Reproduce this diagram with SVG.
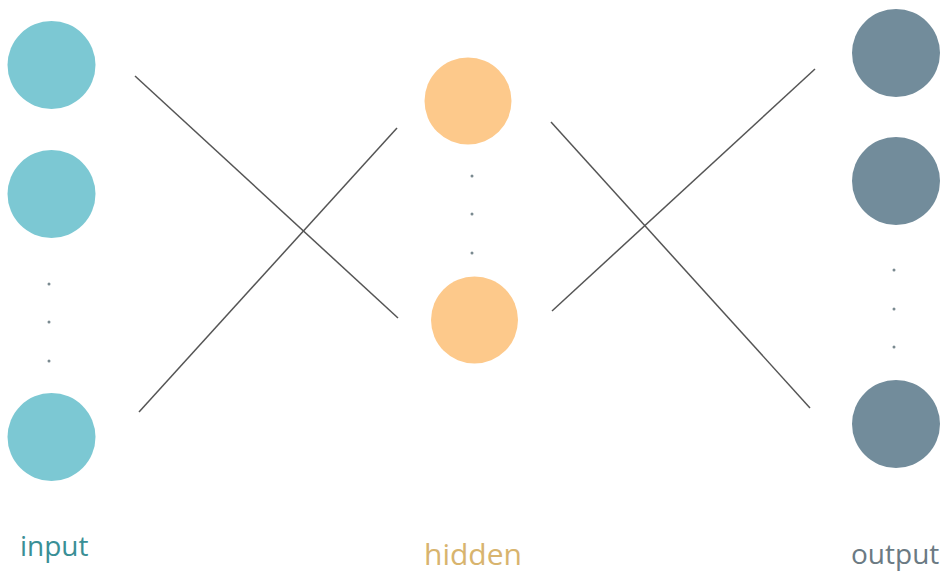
<svg xmlns="http://www.w3.org/2000/svg" width="950" height="573" viewBox="0 0 950 573">
<style>
.in{fill:#7cc8d3}.hid{fill:#fdc98b}.out{fill:#728c9b}
.dot{fill:#7a8a90}
.edge{stroke:#555;stroke-width:1.5;fill:none}
.lbl{font-family:"Open Sans","Liberation Sans",sans-serif;font-size:28px}
</style>
<rect width="950" height="573" fill="#fff"/>
<g id="connectors">
<line class="edge" x1="135" y1="76" x2="398" y2="318"/>
<line class="edge" x1="139" y1="412" x2="397" y2="128"/>
<line class="edge" x1="551" y1="122" x2="810" y2="408"/>
<line class="edge" x1="552" y1="311" x2="815" y2="69"/>
</g>
<g id="input-layer">
<circle class="in" cx="51.5" cy="65" r="44"/>
<circle class="in" cx="51.5" cy="194" r="44"/>
<circle class="dot" cx="49" cy="284" r="1.5"/>
<circle class="dot" cx="49" cy="322" r="1.5"/>
<circle class="dot" cx="49" cy="361" r="1.5"/>
<circle class="in" cx="51.5" cy="437" r="44"/>
<text class="lbl" x="20" y="556" fill="#3a8f96">input</text>
</g>
<g id="hidden-layer">
<circle class="hid" cx="468" cy="101" r="43.5"/>
<circle class="dot" cx="472" cy="176" r="1.5"/>
<circle class="dot" cx="472" cy="214" r="1.5"/>
<circle class="dot" cx="472" cy="253" r="1.5"/>
<circle class="hid" cx="474.5" cy="320" r="43.5"/>
<text class="lbl" x="424" y="565" fill="#d8b46e" style="font-size:30px">hidden</text>
</g>
<g id="output-layer">
<circle class="out" cx="896" cy="53" r="44"/>
<circle class="out" cx="896" cy="181" r="44"/>
<circle class="dot" cx="894" cy="270" r="1.5"/>
<circle class="dot" cx="894" cy="309" r="1.5"/>
<circle class="dot" cx="894" cy="347" r="1.5"/>
<circle class="out" cx="896" cy="424" r="44"/>
<text class="lbl" x="851" y="564" fill="#6b7a83">output</text>
</g>
</svg>
